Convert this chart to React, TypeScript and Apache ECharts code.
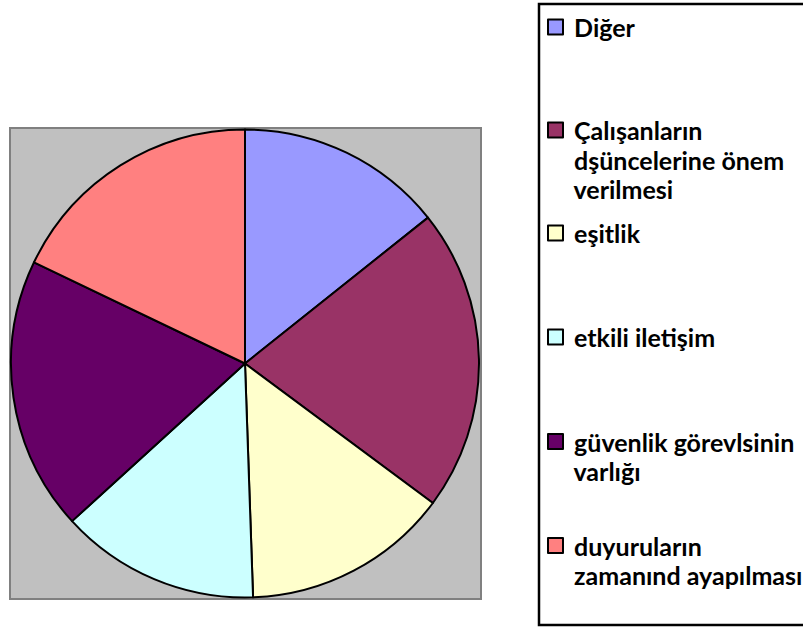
import React, { useEffect, useRef } from "react";
import * as echarts from "echarts";

const categories = [
  "Diğer",
  "Çalışanların dşüncelerine önem verilmesi",
  "eşitlik",
  "etkili iletişim",
  "güvenlik görevlsinin varlığı",
  "duyuruların zamanınd ayapılması",
];
const legendLines = [
  ["Diğer"],
  ["Çalışanların", "dşüncelerine önem", "verilmesi"],
  ["eşitlik"],
  ["etkili iletişim"],
  ["güvenlik görevlsinin", "varlığı"],
  ["duyuruların", "zamanınd ayapılması"],
];
const values = [14.3, 20.9, 14.3, 13.8, 18.9, 17.9];
const colors = ["#9999FF", "#993366", "#FFFFCC", "#CCFFFF", "#660066", "#FF8080"];

const FONT = "Lato";
const FS = 25;
const LH = 29.5;
const legendCenters = [27, 130, 233, 337, 441.5, 545.5];

export default function App() {
  const ref = useRef<HTMLDivElement>(null);
  useEffect(() => {
    document.body.style.margin = "0";
    document.body.style.overflow = "hidden";
    const chart = echarts.init(ref.current!, null, { renderer: "svg" });
    const legends = categories.map((name, i) => {
      const lines = legendLines[i];
      const n = lines.length;
      const padded = [...Array(n - 1).fill(" "), ...lines.map((l) => " " + l)];
      const boxH = (2 * n - 1) * LH;
      return {
        data: [name],
        orient: "vertical",
        left: 547,
        top: legendCenters[i] - boxH / 2,
        padding: 0,
        itemWidth: 15,
        itemHeight: 15,
        icon: "rect",
        selectedMode: false,
        itemStyle: { borderColor: "#000", borderWidth: 2 },
        formatter: () => padded.join("\n"),
        textStyle: {
          fontFamily: FONT,
          fontWeight: "bold",
          fontSize: FS,
          lineHeight: LH,
          color: "#000",
        },
      };
    });
    chart.setOption({
      animation: false,
      graphic: [
        {
          type: "rect",
          shape: { x: 10, y: 128, width: 471, height: 471 },
          style: { fill: "#C0C0C0", stroke: "#808080", lineWidth: 2 },
          z: 0,
        },
        {
          type: "rect",
          shape: { x: 539, y: 4, width: 300, height: 621 },
          style: { fill: "#FFFFFF", stroke: "#000000", lineWidth: 2.5 },
          z: 0,
        },
      ],
      legend: legends,
      series: [
        {
          type: "pie",
          center: [245, 363.5],
          radius: 234,
          startAngle: 90,
          clockwise: true,
          label: { show: false },
          labelLine: { show: false },
          emphasis: { disabled: true },
          itemStyle: { borderColor: "#000", borderWidth: 2 },
          data: categories.map((name, i) => ({
            name,
            value: values[i],
            itemStyle: { color: colors[i] },
          })),
        },
      ],
    });
    return () => chart.dispose();
  }, []);
  return (
    <div
      ref={ref}
      style={{ position: "absolute", left: 0, top: 0, width: 803, height: 629 }}
    />
  );
}
